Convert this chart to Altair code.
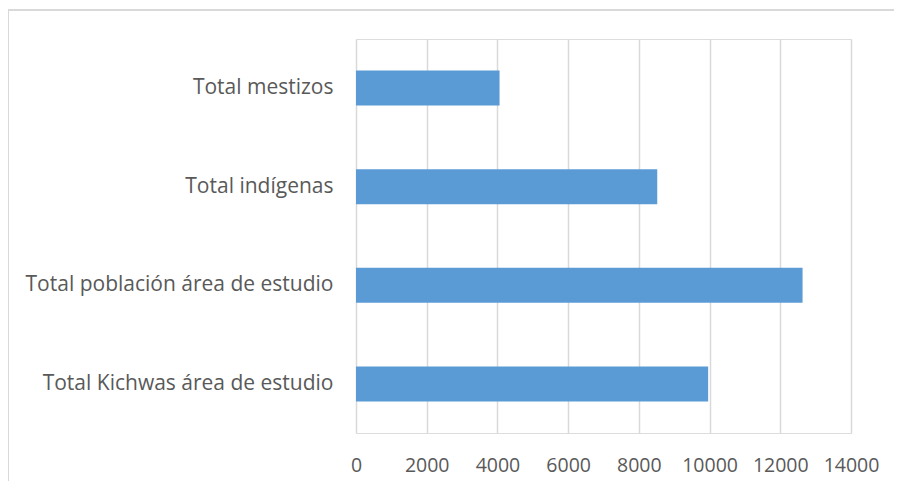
import altair as alt
import pandas as pd

categories = [
    "Total mestizos",
    "Total indígenas",
    "Total población área de estudio",
    "Total Kichwas área de estudio",
]
values = [4060, 8520, 12630, 9960]
x_ticks = [0, 2000, 4000, 6000, 8000, 10000, 12000, 14000]

df = pd.DataFrame({"categoria": categories, "valor": values})

FONT = "Open Sans"
TXT = "#595959"
GRID = "#d9d9d9"

bars = alt.Chart(df).mark_bar(color="#5b9bd5").encode(
    x=alt.X(
        "valor:Q",
        scale=alt.Scale(domain=[0, 14000], nice=False),
        axis=alt.Axis(
            values=x_ticks,
            format="d",
            title=None,
            domain=False,
            ticks=False,
            grid=True,
            gridColor=GRID,
            gridWidth=1.5,
            labelFont=FONT,
            labelFontSize=19.5,
            labelColor=TXT,
            labelPadding=23,
            labelFlush=False,
        ),
    ),
    y=alt.Y(
        "categoria:N",
        sort=categories,
        scale=alt.Scale(paddingInner=0.645, paddingOuter=0.32),
        axis=alt.Axis(
            title=None,
            domain=False,
            ticks=False,
            grid=False,
            labelFont=FONT,
            labelFontSize=21,
            labelColor=TXT,
            labelPadding=23,
            labelLimit=400,
        ),
    ),
)

frame_top = alt.Chart(df).mark_rule(color=GRID, strokeWidth=1.5).encode(
    x=alt.value(-348), x2=alt.value(560), y=alt.value(-29)
)
frame_left = alt.Chart(df).mark_rule(color=GRID, strokeWidth=1.5).encode(
    x=alt.value(-348), y=alt.value(-29), y2=alt.value(470)
)

chart = (
    alt.layer(bars, frame_top, frame_left)
    .properties(
        width=495,
        height=394,
        autosize=alt.AutoSizeParams(type="none"),
        padding={"left": 348, "top": 31, "right": 43, "bottom": 48},
    )
    .configure_view(stroke=None)
    .configure(background="white")
)

chart.save("out.html", embed_options={"renderer": "svg", "actions": False})
